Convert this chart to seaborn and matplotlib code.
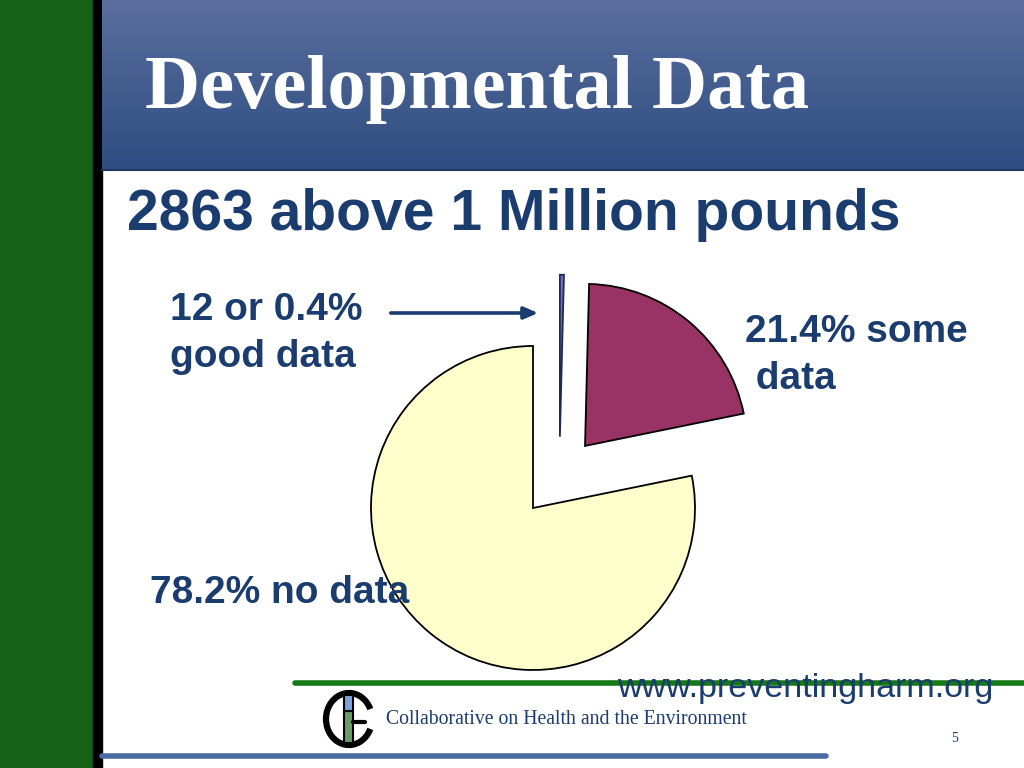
import matplotlib
matplotlib.use("Agg")
import matplotlib.pyplot as plt
import numpy as np
import seaborn as sns
from matplotlib.patches import Rectangle, Arc

# data
labels = ["no data", "some data", "good data"]
shares = [78.2, 21.4, 0.4]
colors = ["#FFFFCC", "#993366", "#6F6FCF"]
explode_frac = [0.0, 0.5, 0.44]
label_texts = ["78.2% no data", "21.4% some\n data", "12 or 0.4%\ngood data"]

title = "Developmental Data"
subtitle = "2863 above 1 Million pounds"
url = "www.preventingharm.org"
footer = "Collaborative on Health and the Environment"
page = "5"

NAVY = "#1B3C6E"
H = 768


def Y(y):
    return H - y


sns.set_theme(style="white")
fig = plt.figure(figsize=(10.24, 7.68), dpi=100)
ax = fig.add_axes([0, 0, 1, 1])
ax.set_xlim(0, 1024)
ax.set_ylim(0, H)
ax.axis("off")

# left green band and black stripe
ax.add_patch(Rectangle((0, 0), 93, H, color="#166116", zorder=1))
ax.add_patch(Rectangle((93, 0), 9, H, color="black", zorder=1))

# title banner with vertical gradient
grad = np.linspace(0, 1, 100)[:, None]
top = np.array([0x5A, 0x6F, 0x9E]) / 255
bot = np.array([0x2E, 0x4C, 0x80]) / 255
img = top + (bot - top) * grad[..., None]
img = np.repeat(img, 2, axis=1)
ax.imshow(img, extent=[102, 1024, Y(170), Y(0)], aspect="auto", zorder=1)
ax.plot([102, 1024], [Y(170), Y(170)], color="#1F3563", lw=1.5, zorder=2)
ax.text(145, Y(108), title, family="Liberation Serif", fontweight="bold",
        fontsize=55, color="white", va="baseline", ha="left", zorder=3)

ax.text(127, Y(230), subtitle, family="Liberation Sans", fontweight="bold",
        fontsize=41, color=NAVY, va="baseline", ha="left", zorder=3)

# pie chart
R = 162
cx, cy = 533, Y(508)
wedges, _ = ax.pie(shares, colors=colors, explode=[e * R for e in explode_frac],
                   startangle=90, radius=R, center=(cx, cy), frame=True,
                   wedgeprops=dict(edgecolor="black", linewidth=1.3))
wedges[2].set_edgecolor("#1F2A55")
c = wedges[2].center
wedges[2].set_center((c[0] + 26, c[1]))
ax.set_xlim(0, 1024)
ax.set_ylim(0, H)
ax.set_aspect("auto")
ax.axis("off")

# labels
lab_kw = dict(family="Liberation Sans", fontweight="bold", fontsize=28,
              color=NAVY, va="baseline", ha="left", zorder=5, linespacing=1.4)
ax.text(150, Y(603), label_texts[0], **lab_kw)
ax.text(745, Y(389), label_texts[1], **lab_kw)
ax.text(170, Y(367), label_texts[2], **lab_kw)

ax.annotate("", xy=(541, Y(313)), xytext=(388, Y(313)),
            arrowprops=dict(arrowstyle="-|>,head_length=0.7,head_width=0.3",
                            color=NAVY, lw=2.6), zorder=5)

# footer
ax.plot([295, 1024], [Y(683), Y(683)], color="#147A14", lw=4, zorder=2)
ax.text(993, Y(697), url, family="Liberation Sans", fontsize=24.5,
        color=NAVY, ha="right", va="baseline", zorder=3)
ax.text(386, Y(724), footer, family="Liberation Serif", fontsize=14.2,
        color=NAVY, ha="left", va="baseline", zorder=3)
ax.text(955, Y(742), page, family="Liberation Serif", fontsize=10,
        color=NAVY, ha="center", va="baseline", zorder=3)
ax.plot([102, 826], [Y(756), Y(756)], color="#4A6BA3", lw=4, zorder=2)

# logo
lx, ly = 349, Y(719)
ax.add_patch(Arc((lx, ly), 46, 52, theta1=25, theta2=335, color="black",
                 lw=4.5, zorder=4))
ax.add_patch(Rectangle((lx - 5, ly - 24), 9, 32, facecolor="#6B9A6B",
                       edgecolor="black", lw=1.5, zorder=5))
ax.add_patch(Rectangle((lx - 5, ly + 8), 9, 16, facecolor="#7BA3D9",
                       edgecolor="black", lw=1.5, zorder=5))
ax.plot([lx + 4, lx + 16], [ly - 3, ly - 3], color="black", lw=3, zorder=5)

fig.savefig("out.png", dpi=100)
